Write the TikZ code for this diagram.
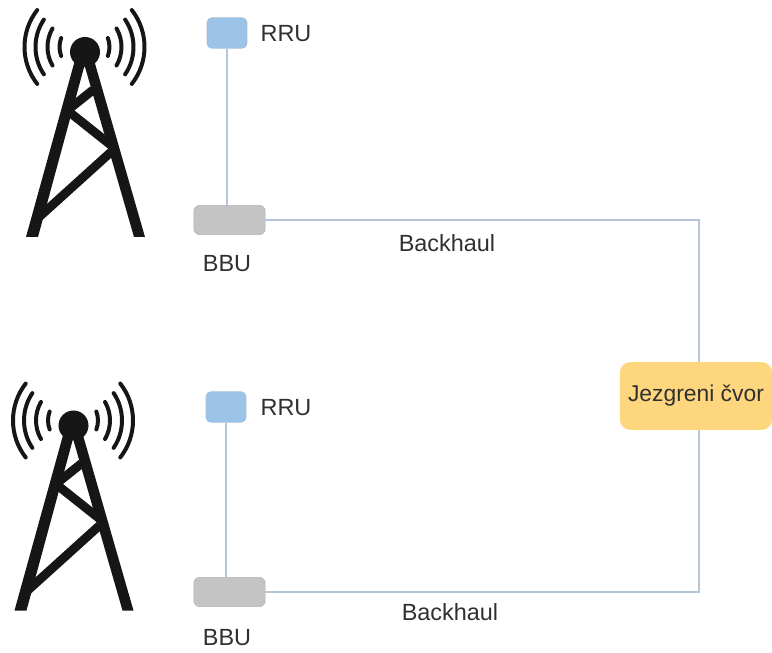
\documentclass[tikz,border=0pt]{standalone}
\usepackage{fontspec}
\setmainfont{Liberation Sans}
\usepackage{xcolor}
\definecolor{wireblue}{HTML}{B4C6D8}
\definecolor{rrufill}{HTML}{9CC3E8}
\definecolor{rruedge}{HTML}{A3BFD8}
\definecolor{bbufill}{HTML}{C4C4C4}
\definecolor{corefill}{HTML}{FDD67E}
\definecolor{towerblack}{HTML}{161616}
\definecolor{labeltext}{HTML}{303030}
\tikzset{
    rrubox/.style={draw=rruedge, fill=rrufill, rounded corners=4pt, line width=0.6pt, minimum width=34pt, minimum height=26pt, inner sep=0pt},
    bbubox/.style={draw=bbufill!90!black, fill=bbufill, rounded corners=5pt, line width=0.4pt, minimum width=61pt, minimum height=25pt, inner sep=0pt},
    corebox/.style={fill=corefill, rounded corners=9pt, minimum width=130pt, minimum height=58pt, inner sep=0pt, text=labeltext},
    tag/.style={text=labeltext, font=\fontsize{20}{24}\selectfont, inner sep=0pt},
    wire/.style={wireblue, line width=1.4pt},
    strut/.style={towerblack, line width=7.6pt},
    wave/.style={towerblack, line width=3.4pt, line cap=round},
}
\newcommand{\tower}{
    \fill[towerblack] (85, 52) circle (15);
    \fill[towerblack] (26, 237) -- (38, 237) -- (86, 60) -- (75, 60) -- cycle;
    \fill[towerblack] (134, 237) -- (145, 237) -- (94, 60) -- (83, 60) -- cycle;
    \draw[strut] (93, 90) -- (68, 110);
    \draw[strut] (68, 111) -- (112, 146);
    \draw[strut] (111, 152) -- (38, 218);
    \foreach \rad/\ang in {25/21, 37/30, 49/34, 60/38} {
        \draw[wave] ({84.5+\rad*cos(\ang)}, {47+\rad*sin(\ang)}) arc[start angle=\ang, end angle=-\ang, radius=\rad];
        \draw[wave] ({84.5-\rad*cos(\ang)}, {47+\rad*sin(\ang)}) arc[start angle=180-\ang, end angle=180+\ang, radius=\rad];
    }
}
\begin{document}
\begin{tikzpicture}[x=0.03cm, y=-0.03cm]
    \useasboundingbox (0, 0) rectangle (772, 653);
    \begin{scope}
        \tower
    \end{scope}
    \begin{scope}[shift={(-11.5, 373.5)}]
        \tower
    \end{scope}

    \node[rrubox] (rruA) at (227, 33) {};
    \node[rrubox] (rruB) at (226, 407) {};
    \node[bbubox] (bbuA) at (229.5, 220) {};
    \node[bbubox] (bbuB) at (229.5, 592) {};
    \node[corebox, font=\fontsize{19.5}{24}\selectfont] (core) at (696, 396) {Jezgreni čvor};

    \node[tag] (rruAtag) at (286, 33.5) {RRU};
    \node[tag] (rruBtag) at (286, 407.5) {RRU};
    \node[tag] (bbuAtag) at (227, 263.5) {BBU};
    \node[tag] (bbuBtag) at (227, 637.5) {BBU};
    \node[tag] (backA) at (447, 243) {Backhaul};
    \node[tag] (backB) at (450, 612) {Backhaul};

    \coordinate (coreTop) at (699, 362);
    \coordinate (coreBot) at (699, 430);
    \draw[wire] (rruA) -- (rruA |- bbuA.north);
    \draw[wire] (rruB) -- (rruB |- bbuB.north);
    \draw[wire] (bbuA.east) -| (coreTop);
    \draw[wire] (bbuB.east) -| (coreBot);
\end{tikzpicture}
\end{document}
